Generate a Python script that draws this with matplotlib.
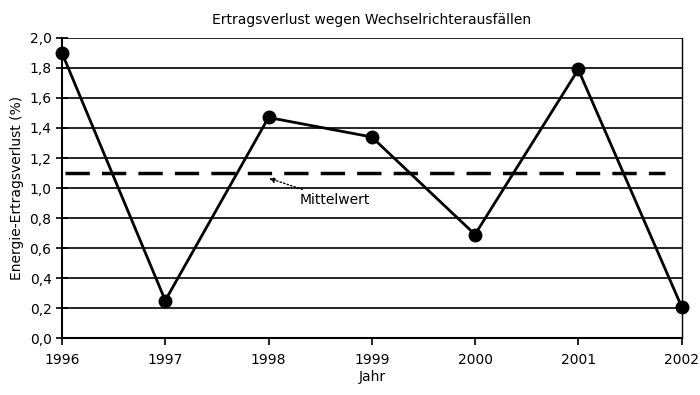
import matplotlib
matplotlib.use("Agg")
import matplotlib.pyplot as plt
import numpy as np

plt.rcParams["font.family"] = ["Liberation Sans Narrow", "DejaVu Sans"]

years = [1996, 1997, 1998, 1999, 2000, 2001, 2002]
loss = [1.90, 0.25, 1.47, 1.34, 0.69, 1.79, 0.21]
mean_value = 1.10
yticks = np.arange(0, 2.01, 0.2)

fig = plt.figure(figsize=(7, 3.95), dpi=100)
ax = fig.add_axes([0.0886, 0.1443, 0.885, 0.7595])

# horizontal grid
for y in yticks:
    ax.axhline(y, color="black", lw=1.2, zorder=1)

# data line
ax.plot(years, loss, color="black", lw=2, marker="o", markersize=9, zorder=3, clip_on=False)

# mean line
ax.plot([1996.03, 2001.84], [mean_value, mean_value], color="black", lw=2.5,
        linestyle=(0, (7, 3.5)), zorder=2)
ax.annotate("Mittelwert", xy=(1997.98, mean_value - 0.03), xytext=(1998.3, 0.92),
            fontsize=10, va="center",
            arrowprops=dict(arrowstyle="-|>", linestyle=":", color="black", lw=1,
                            mutation_scale=8))

ax.set_xlim(1996, 2002)
ax.set_ylim(0, 2.0)
ax.set_xticks(years)
ax.set_yticks(yticks)
ax.set_yticklabels([f"{v:.1f}".replace(".", ",") for v in yticks])
ax.tick_params(axis="y", direction="inout", length=8, width=1.2, labelsize=10)
ax.tick_params(axis="x", direction="out", length=5, width=1.2, labelsize=10, pad=6)

ax.spines["top"].set_visible(False)
ax.spines["left"].set_linewidth(1.5)
ax.spines["bottom"].set_linewidth(1.5)
ax.spines["right"].set_linewidth(1)

ax.set_title("Ertragsverlust wegen Wechselrichterausfällen", fontsize=10, pad=10)
ax.set_xlabel("Jahr", fontsize=10, labelpad=2)
ax.set_ylabel("Energie-Ertragsverlust (%)", fontsize=10, labelpad=4)

fig.savefig("out.png", dpi=100)
